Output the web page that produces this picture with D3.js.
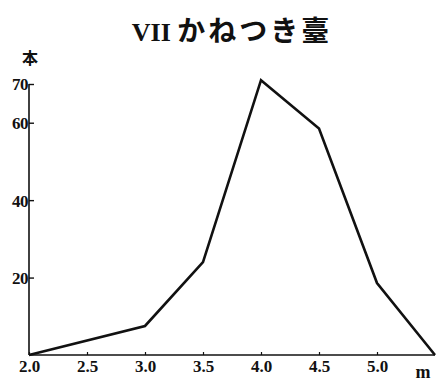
<!DOCTYPE html>
<html><head><meta charset="utf-8">
<script src="https://cdn.jsdelivr.net/npm/d3@7"></script>
<style>body{margin:0;background:#fff}</style>
</head><body>
<svg id="c" width="436" height="381"></svg>
<script>
const xValues = [2.0, 3.0, 3.5, 4.0, 4.5, 5.0, 5.5];
const counts = [0, 7.5, 24, 71, 58.5, 18.6, 0];
const xTicks = [2.0, 2.5, 3.0, 3.5, 4.0, 4.5, 5.0];
const yTicks = [20, 40, 60, 70];
const title = "VII かねつき臺";
const yUnit = "本";
const xUnit = "m";

const svg = d3.select("#c");
const serif = "'Liberation Serif','DejaVu Serif',serif";
const x = d3.scaleLinear().domain([2.0, 5.5]).range([29, 435]);
const y = d3.scaleLinear().domain([0, 70]).range([355, 84]);

// title
const t = svg.append("text").attr("x", 232).attr("y", 41).attr("text-anchor", "middle")
  .attr("font-weight", "bold").attr("fill", "#111");
t.append("tspan").attr("font-family", serif).attr("font-size", 26).text("VII ");
t.append("tspan").attr("font-family", "'Noto Sans CJK JP'").attr("font-size", 28)
  .attr("letter-spacing", 3).text(title.slice(4));

svg.append("text").attr("x", 22).attr("y", 64).attr("font-family", "'Noto Sans CJK JP'")
  .attr("font-weight", "bold").attr("font-size", 16).attr("fill", "#111").text(yUnit);

// axes
const gy = svg.append("g").attr("transform", "translate(29,0)")
  .call(d3.axisLeft(y).tickValues(yTicks).tickSize(-5).tickPadding(2).tickFormat(d3.format("d")));
gy.select(".domain").attr("d", `M0,${y(0)}V${y(70)}`).attr("stroke", "#111").attr("stroke-width", 1.6);
gy.selectAll(".tick line").attr("stroke", "#111").attr("stroke-width", 1.4);
gy.selectAll(".tick text").attr("font-family", serif).attr("font-weight", "bold")
  .style("font-size", "17px").attr("fill", "#111").attr("x", -1).attr("dy", "0.35em")
  .attr("letter-spacing", -0.5);

const gx = svg.append("g").attr("transform", `translate(0,${y(0)})`)
  .call(d3.axisBottom(x).tickValues(xTicks).tickSize(-3).tickPadding(5).tickFormat(d3.format(".1f")));
gx.select(".domain").attr("d", `M${x(2.0)},0H${x(5.5)}`).attr("stroke", "#111").attr("stroke-width", 1.6);
gx.selectAll(".tick line").attr("stroke", "#111").attr("stroke-width", 1.2);
gx.selectAll(".tick text").attr("font-family", serif).attr("font-weight", "bold")
  .style("font-size", "17px").attr("fill", "#111");

svg.append("text").attr("x", 423).attr("y", 378).attr("text-anchor", "middle")
  .attr("font-family", serif).attr("font-weight", "bold").attr("font-size", 18)
  .attr("fill", "#111").text(xUnit);

// line
const data = xValues.map((v, i) => [v, counts[i]]);
svg.append("path").datum(data)
  .attr("d", d3.line().x(d => x(d[0])).y(d => y(d[1])))
  .attr("fill", "none").attr("stroke", "#111").attr("stroke-width", 2.6)
  .attr("stroke-linejoin", "miter");
</script>
</body></html>
